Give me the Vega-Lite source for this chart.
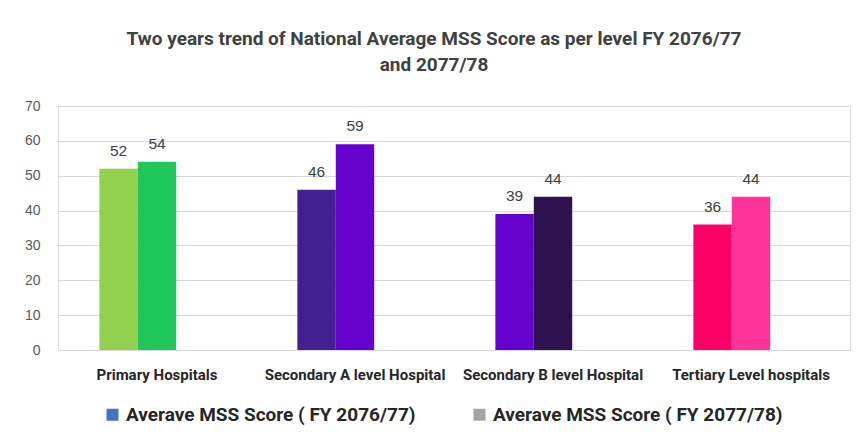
{
  "$schema": "https://vega.github.io/schema/vega-lite/v6.json",
  "width": 792,
  "height": 244,
  "autosize": "none",
  "padding": {"left": 58, "top": 106, "right": 12, "bottom": 94},
  "background": "white",
  "title": {
    "text": ["Two years trend of National Average MSS Score as per level FY 2076/77", "and 2077/78"],
    "font": "Roboto",
    "fontSize": 19,
    "fontWeight": "bold",
    "color": "#404040",
    "anchor": "middle",
    "dx": -20,
    "offset": 24,
    "lineHeight": 26
  },
  "data": {
    "values": [
      {"level": "Primary Hospitals", "series": "Averave MSS Score ( FY 2076/77)", "score": 52, "hex": "#92D050"},
      {"level": "Primary Hospitals", "series": "Averave MSS Score ( FY 2077/78)", "score": 54, "hex": "#21C65A"},
      {"level": "Secondary A level Hospital", "series": "Averave MSS Score ( FY 2076/77)", "score": 46, "hex": "#42208F"},
      {"level": "Secondary A level Hospital", "series": "Averave MSS Score ( FY 2077/78)", "score": 59, "hex": "#6600CC"},
      {"level": "Secondary B level Hospital", "series": "Averave MSS Score ( FY 2076/77)", "score": 39, "hex": "#6600CC"},
      {"level": "Secondary B level Hospital", "series": "Averave MSS Score ( FY 2077/78)", "score": 44, "hex": "#2E1250"},
      {"level": "Tertiary Level hospitals", "series": "Averave MSS Score ( FY 2076/77)", "score": 36, "hex": "#FF0066"},
      {"level": "Tertiary Level hospitals", "series": "Averave MSS Score ( FY 2077/78)", "score": 44, "hex": "#FF3399"}
    ]
  },
  "encoding": {
    "x": {
      "field": "level",
      "type": "nominal",
      "sort": null,
      "scale": {"paddingInner": 0.418, "paddingOuter": 0.209},
      "axis": {
        "title": null,
        "labelAngle": 0,
        "labelFont": "Roboto",
        "labelFontSize": 15,
        "labelFontWeight": "bold",
        "labelColor": "#262626",
        "labelPadding": 17,
        "labelLimit": 220,
        "ticks": false,
        "domainColor": "#d9d9d9",
        "grid": false
      }
    },
    "xOffset": {
      "field": "series",
      "type": "nominal",
      "scale": {"domain": ["Averave MSS Score ( FY 2076/77)", "Averave MSS Score ( FY 2077/78)", "blank"], "paddingInner": 0, "paddingOuter": 0}
    },
    "y": {
      "field": "score",
      "type": "quantitative",
      "scale": {"domain": [0, 70]},
      "axis": {
        "title": null,
        "values": [0, 10, 20, 30, 40, 50, 60, 70],
        "domain": false,
        "ticks": false,
        "gridColor": "#d9d9d9",
        "gridWidth": 1,
        "labelFont": "Liberation Sans",
        "labelFontSize": 14,
        "labelColor": "#595959",
        "labelPadding": 18
      }
    }
  },
  "layer": [
    {
      "mark": {"type": "bar"},
      "encoding": {
        "fill": {"field": "hex", "type": "nominal", "scale": null, "legend": null}
      }
    },
    {
      "mark": {"type": "text", "baseline": "bottom", "dy": -10, "font": "Liberation Sans", "fontSize": 15.5, "color": "#404040"},
      "encoding": {"text": {"field": "score", "type": "quantitative"}}
    },
    {
      "mark": {"type": "square", "opacity": 0},
      "encoding": {
        "color": {
          "field": "series",
          "type": "nominal",
          "scale": {"domain": ["Averave MSS Score ( FY 2076/77)", "Averave MSS Score ( FY 2077/78)"], "range": ["#4472C4", "#A5A5A5"]},
          "legend": {
            "title": null,
            "orient": "none",
            "direction": "horizontal",
            "legendX": 45,
            "legendY": 299,
            "symbolType": "square",
            "symbolSize": 144,
            "symbolOpacity": 1,
            "symbolStrokeWidth": 0,
            "labelFont": "Roboto",
            "labelFontSize": 19,
            "labelFontWeight": "bold",
            "labelColor": "#262626",
            "labelOffset": 4,
            "labelLimit": 400,
            "columnPadding": 54
          }
        }
      }
    }
  ]
}
